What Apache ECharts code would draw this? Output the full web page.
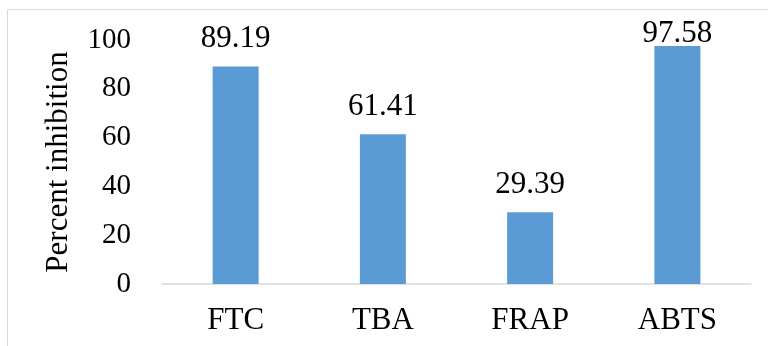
<!DOCTYPE html>
<html><head><meta charset="utf-8">
<script src="https://cdn.jsdelivr.net/npm/echarts@6/dist/echarts.min.js"></script>
<style>html,body{margin:0;padding:0;background:#fff}#c{width:768px;height:346px}</style>
</head><body><div id="c"></div>
<script>
const categories = ['FTC', 'TBA', 'FRAP', 'ABTS'];
const values = [89.19, 61.41, 29.39, 97.58];
const yTicks = [0, 20, 40, 60, 80, 100];

const font = '"Liberation Serif", "Times New Roman", serif';
const chart = echarts.init(document.getElementById('c'), null, {renderer: 'canvas'});
chart.setOption({
  animation: false,
  backgroundColor: '#fff',
  graphic: [{type: 'rect', shape: {x: 7.5, y: 9.5, width: 900, height: 500}, style: {fill: 'none', stroke: '#d9d9d9', lineWidth: 1}}],
  grid: {left: 162, right: 17, top: 40, bottom: 62},
  xAxis: {
    type: 'category', data: categories,
    axisLine: {lineStyle: {color: '#d9d9d9', width: 1.5}},
    axisTick: {show: false},
    axisLabel: {color: '#000', fontFamily: font, fontSize: 31, margin: 21}
  },
  yAxis: {
    type: 'value', min: yTicks[0], max: yTicks[yTicks.length - 1], interval: 20,
    name: 'Percent inhibition', nameLocation: 'middle', nameGap: 88, nameRotate: 90,
    nameTextStyle: {color: '#000', fontFamily: font, fontSize: 31},
    axisLine: {show: false}, axisTick: {show: false}, splitLine: {show: false},
    axisLabel: {color: '#000', fontFamily: font, fontSize: 29, margin: 31}
  },
  series: [{
    type: 'bar', barWidth: 46,
    itemStyle: {color: '#5b9bd5'},
    label: {show: true, position: 'top', distance: 12, color: '#000', fontFamily: font, fontSize: 31,
      formatter: p => p.value.toFixed(2)},
    data: values.map((v, i) => i === 3 ? {value: v, label: {distance: -3}} : v)
  }]
});
</script></body></html>
